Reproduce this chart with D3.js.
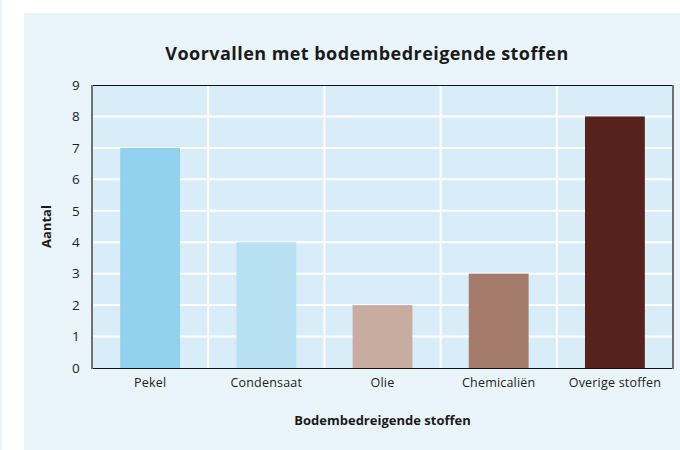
<!DOCTYPE html>
<html>
<head>
<meta charset="utf-8">
<script src="https://cdn.jsdelivr.net/npm/d3@7"></script>
<style>
	body { margin: 0; background: #fff; }
	text { font-family: "Open Sans", "Noto Sans", sans-serif; fill: #1a1a1a; }
	.title { font-weight: bold; font-size: 18px; letter-spacing: 0.45px; }
	.axis-title { font-weight: bold; font-size: 13px; }
	.tick-label { font-size: 12.5px; fill: #222; letter-spacing: 0.2px; }
	.y-label { font-size: 13.5px; }
</style>
</head>
<body>
<svg id="vis" width="680" height="450"></svg>
<script>
var CATEGORIES = ["Pekel", "Condensaat", "Olie", "Chemicaliën", "Overige stoffen"];
var VALUES = [7, 4, 2, 3, 8];
var COLORS = ["#93d2ee", "#b8e0f3", "#c9aca0", "#a57c6c", "#55231b"];
var Y_TICKS = [0, 1, 2, 3, 4, 5, 6, 7, 8, 9];

var svg = d3.select("#vis");
var plotLeft = 92, plotRight = 673, plotTop = 85, plotBottom = 368;

var xScale = d3.scaleBand().domain(CATEGORIES)
                           .range([plotLeft, plotRight])
                           .padding(0);
var yScale = d3.scaleLinear().domain([0, 9])
                             .range([plotBottom, plotTop]);

// panel backgrounds
svg.append("rect").attr("x", 0).attr("y", 0).attr("width", 2).attr("height", 450).attr("fill", "#eaf5fb");
svg.append("rect").attr("x", 24).attr("y", 13).attr("width", 656).attr("height", 437).attr("fill", "#eaf5fb");

// plot area
svg.append("rect")
   .attr("x", plotLeft).attr("y", plotTop)
   .attr("width", plotRight - plotLeft).attr("height", plotBottom - plotTop)
   .attr("fill", "#d9edf8");

// horizontal grid
svg.append("g")
   .selectAll("line")
   .data(Y_TICKS.slice(1, -1))
   .enter()
   .append("line")
   .attr("x1", plotLeft).attr("x2", plotRight)
   .attr("y1", d => yScale(d)).attr("y2", d => yScale(d))
   .attr("stroke", "#fff").attr("stroke-width", 2);

// vertical separators
svg.append("g")
   .selectAll("line")
   .data(CATEGORIES.slice(1))
   .enter()
   .append("line")
   .attr("x1", d => xScale(d)).attr("x2", d => xScale(d))
   .attr("y1", plotTop).attr("y2", plotBottom)
   .attr("stroke", "#fff").attr("stroke-width", 2);

// bars
var barW = xScale.bandwidth() * 0.515;
svg.append("g")
   .selectAll("rect")
   .data(CATEGORIES)
   .enter()
   .append("rect")
   .attr("x", d => xScale(d) + (xScale.bandwidth() - barW) / 2)
   .attr("width", barW)
   .attr("y", (d, i) => yScale(VALUES[i]))
   .attr("height", (d, i) => yScale(0) - yScale(VALUES[i]))
   .attr("fill", (d, i) => COLORS[i]);

// frame
svg.append("line").attr("x1", plotLeft).attr("x2", plotRight).attr("y1", plotTop + 0.5).attr("y2", plotTop + 0.5).attr("stroke", "#111");
svg.append("line").attr("x1", plotLeft).attr("x2", plotRight).attr("y1", plotBottom + 0.5).attr("y2", plotBottom + 0.5).attr("stroke", "#111");
svg.append("line").attr("x1", plotLeft).attr("x2", plotLeft).attr("y1", plotTop).attr("y2", plotBottom + 1).attr("stroke", "#707070").attr("stroke-width", 2);
svg.append("line").attr("x1", plotRight).attr("x2", plotRight).attr("y1", plotTop).attr("y2", plotBottom + 1).attr("stroke", "#707070").attr("stroke-width", 2);

// y-axis labels
var yAxis = d3.axisLeft(yScale).tickValues(Y_TICKS).tickSize(0).tickPadding(12);
var gy = svg.append("g").attr("transform", "translate(" + plotLeft + ",0)").call(yAxis);
gy.select(".domain").remove();
gy.selectAll("text").attr("class", "tick-label y-label").attr("font-size", null).attr("font-family", null);

// x-axis labels
var xAxis = d3.axisBottom(xScale).tickSize(0).tickPadding(10);
var gx = svg.append("g").attr("transform", "translate(0," + plotBottom + ")").call(xAxis);
gx.select(".domain").remove();
gx.selectAll("text").attr("class", "tick-label").attr("font-size", null).attr("font-family", null);

// title
svg.append("text")
   .attr("class", "title")
   .attr("x", 367).attr("y", 60)
   .attr("text-anchor", "middle")
   .text("Voorvallen met bodembedreigende stoffen");

// x-label
svg.append("text")
   .attr("class", "axis-title")
   .attr("x", (plotLeft + plotRight) / 2).attr("y", 425)
   .attr("text-anchor", "middle")
   .text("Bodembedreigende stoffen");

// y-label
svg.append("text")
   .attr("class", "axis-title")
   .attr("transform", "translate(51," + yScale(4.5) + ") rotate(270)")
   .attr("text-anchor", "middle")
   .text("Aantal");
</script>
</body>
</html>
